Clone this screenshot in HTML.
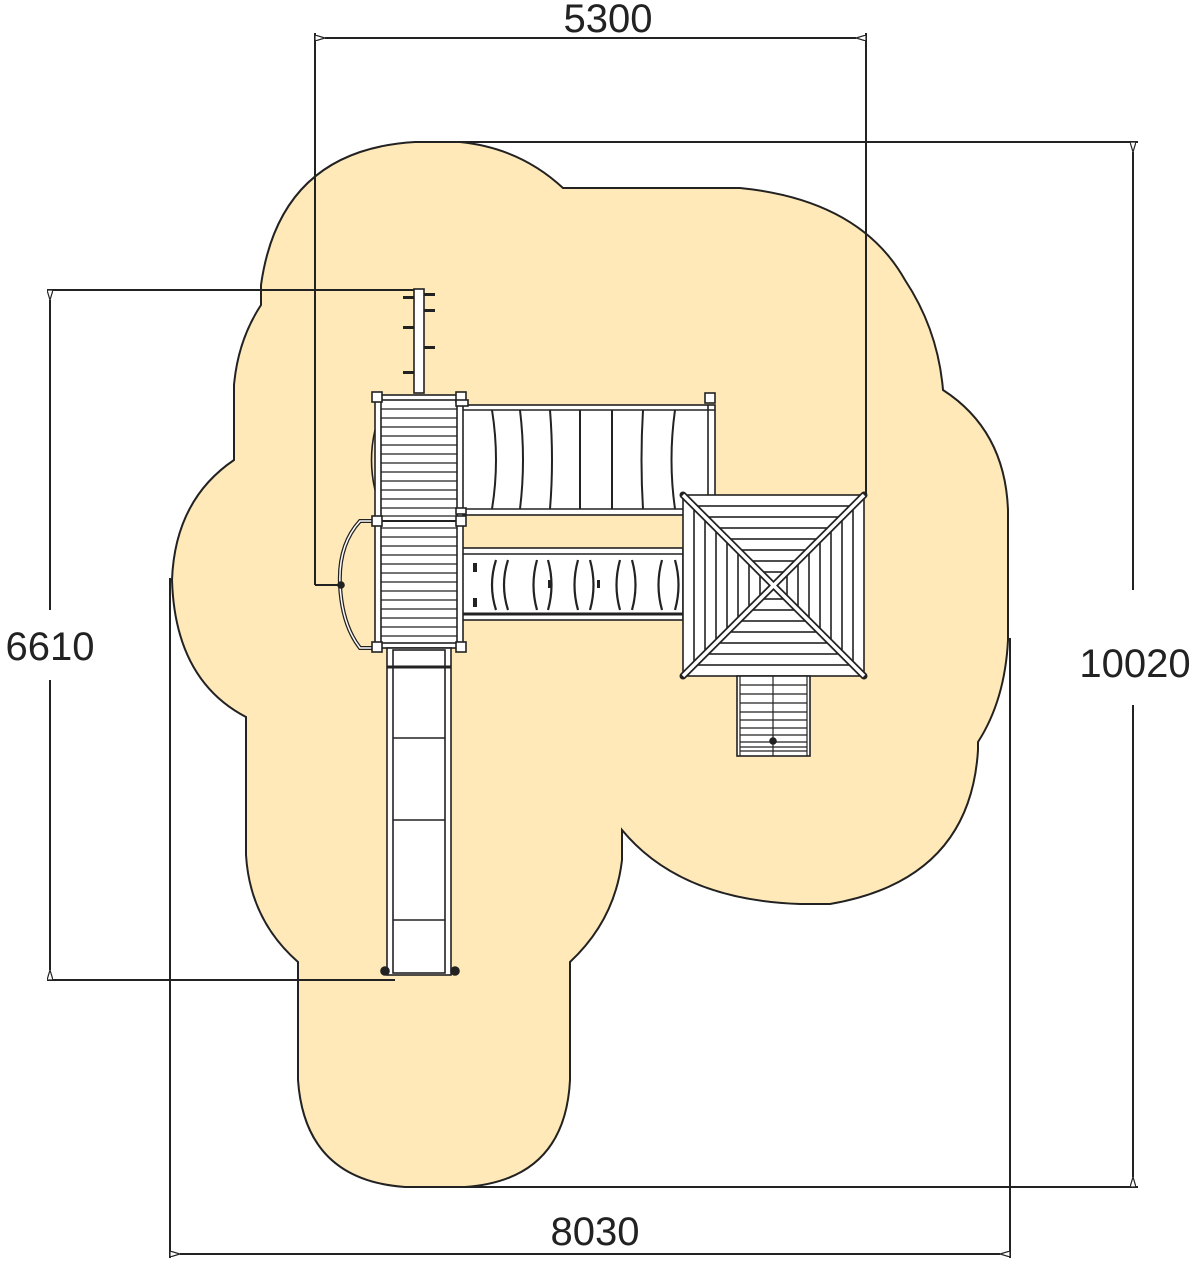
<!DOCTYPE html>
<html><head><meta charset="utf-8"><style>
html,body{margin:0;padding:0;background:#fff;}
svg{display:block;}
text{font-family:"Liberation Sans",sans-serif;font-size:40px;fill:#222;}
</style></head><body>
<svg width="1200" height="1261" viewBox="0 0 1200 1261" xmlns="http://www.w3.org/2000/svg">
<defs>
<marker id="a" viewBox="0 0 10 6" refX="0" refY="3" markerWidth="10" markerHeight="6" orient="auto-start-reverse" markerUnits="userSpaceOnUse">
<path d="M10,0 L0,3 L10,6 z" fill="#fff" stroke="#222" stroke-width="1.2"/></marker>
</defs>
<path d="M415,142 L460,142 Q520,148 563,188 L740,188 Q860,200 905,280 Q938,330 943,390 Q1005,430 1008,510 L1008,640 Q1005,700 978,742 L978,750 Q970,880 830,904 L800,904 Q680,900 622,830 L622,860 Q615,920 570,962 L570,1080 Q565,1180 465,1187 L405,1187 Q305,1180 298,1080 L298,962 Q250,920 246,855 L246,717 Q175,680 172,580 Q175,500 234,460 L234,385 Q238,340 261,305 L261,285 Q280,150 415,142 Z" fill="#ffe9b9" stroke="#222" stroke-width="2"/>
<g stroke="#222" stroke-width="2" fill="none">
<line x1="315" y1="33" x2="315" y2="585"/><line x1="315" y1="585" x2="340" y2="585"/>
<line x1="866" y1="33" x2="866" y2="495"/>
<line x1="325" y1="38" x2="856" y2="38" marker-start="url(#a)" marker-end="url(#a)"/>
<line x1="415" y1="142" x2="1138" y2="142"/><line x1="405" y1="1187" x2="1138" y2="1187"/>
<line x1="1133" y1="152" x2="1133" y2="590" marker-start="url(#a)"/>
<line x1="1133" y1="705" x2="1133" y2="1177" marker-end="url(#a)"/>
<line x1="47" y1="290" x2="418" y2="290"/><line x1="47" y1="980" x2="395" y2="980"/>
<line x1="50" y1="300" x2="50" y2="610" marker-start="url(#a)"/>
<line x1="50" y1="680" x2="50" y2="970" marker-end="url(#a)"/>
<line x1="170" y1="578" x2="170" y2="1258"/><line x1="1010" y1="638" x2="1010" y2="1258"/>
<line x1="180" y1="1254" x2="1000" y2="1254" marker-start="url(#a)" marker-end="url(#a)"/>
</g>
<text x="608" y="32" text-anchor="middle">5300</text>
<text x="1135" y="677" text-anchor="middle">10020</text>
<text x="50" y="660" text-anchor="middle">6610</text>
<text x="595" y="1245" text-anchor="middle">8030</text>

<g stroke="#222" stroke-width="1.6" fill="#fff">
<rect x="414" y="289" width="10" height="104"/>
<g fill="#222" stroke="none">
<rect x="403" y="296" width="11" height="3"/><rect x="424" y="293" width="11" height="3"/><rect x="424" y="309" width="11" height="3"/>
<rect x="403" y="326" width="11" height="3"/><rect x="424" y="346" width="11" height="3"/><rect x="403" y="371" width="11" height="3"/>
</g>
<rect x="460" y="405" width="255" height="110"/>
<line x1="460" y1="410" x2="715" y2="410"/><line x1="460" y1="509" x2="683" y2="509"/>
<g fill="none" stroke-width="2">
<path d="M492,410 Q500,460 492,509"/><path d="M520,410 Q526,460 520,509"/><path d="M550,410 Q554,460 550,509"/>
<path d="M580,410 L580,509"/><path d="M612,410 L612,509"/><path d="M643,410 Q640,460 643,509"/><path d="M675,410 Q668,460 675,509"/>
</g>
<line x1="708" y1="405" x2="708" y2="495"/>
<rect x="705" y="393" width="10" height="10"/>
<rect x="460" y="548" width="223" height="72"/>
<line x1="460" y1="554" x2="683" y2="554"/><line x1="460" y1="614" x2="683" y2="614" stroke-width="3"/>
<g fill="none" stroke-width="2.2">
<path d="M496,560 Q488,585 496,610"/><path d="M508,560 Q500,585 508,610"/>
<path d="M537,560 Q530,585 537,610"/><path d="M548,560 Q555,585 548,610"/>
<path d="M578,560 Q571,585 578,610"/><path d="M590,560 Q597,585 590,610"/>
<path d="M620,560 Q613,585 620,610"/><path d="M632,560 Q639,585 632,610"/>
<path d="M662,560 Q655,585 662,610"/><path d="M675,560 Q682,585 675,610"/>
</g>
<g fill="#222" stroke="none">
<rect x="473" y="563" width="4" height="9"/><rect x="473" y="598" width="4" height="9"/>
<rect x="548" y="580" width="3" height="8"/><rect x="597" y="580" width="3" height="8"/>
</g>
<rect x="375" y="395" width="88" height="253"/>
<rect x="381" y="400" width="76" height="243"/>
<g stroke-width="1.2">
<line x1="381" y1="409" x2="457" y2="409"/><line x1="381" y1="418" x2="457" y2="418"/><line x1="381" y1="427" x2="457" y2="427"/><line x1="381" y1="436" x2="457" y2="436"/><line x1="381" y1="445" x2="457" y2="445"/><line x1="381" y1="454" x2="457" y2="454"/><line x1="381" y1="463" x2="457" y2="463"/><line x1="381" y1="472" x2="457" y2="472"/><line x1="381" y1="481" x2="457" y2="481"/><line x1="381" y1="490" x2="457" y2="490"/><line x1="381" y1="499" x2="457" y2="499"/><line x1="381" y1="508" x2="457" y2="508"/><line x1="381" y1="516" x2="457" y2="516"/>
<line x1="381" y1="528" x2="457" y2="528"/><line x1="381" y1="537" x2="457" y2="537"/><line x1="381" y1="546" x2="457" y2="546"/><line x1="381" y1="555" x2="457" y2="555"/><line x1="381" y1="564" x2="457" y2="564"/><line x1="381" y1="573" x2="457" y2="573"/><line x1="381" y1="582" x2="457" y2="582"/><line x1="381" y1="591" x2="457" y2="591"/><line x1="381" y1="600" x2="457" y2="600"/><line x1="381" y1="609" x2="457" y2="609"/><line x1="381" y1="618" x2="457" y2="618"/><line x1="381" y1="627" x2="457" y2="627"/><line x1="381" y1="636" x2="457" y2="636"/>
</g>
<line x1="375" y1="521" x2="463" y2="521" stroke-width="2"/>
<path d="M375,430 Q368,460 375,490" fill="none"/>
<path d="M373,521 L360,521 Q338,545 340,585 Q342,625 360,648 L373,648" fill="none" stroke-width="4"/>
<path d="M373,521 L360,521 Q338,545 340,585 Q342,625 360,648 L373,648" fill="none" stroke="#fff" stroke-width="1.5"/>
<circle cx="341" cy="585" r="3" fill="#222"/>
<rect x="372" y="392" width="10" height="10"/><rect x="456" y="392" width="10" height="10"/>
<rect x="372" y="516" width="10" height="10"/><rect x="456" y="516" width="10" height="10"/>
<rect x="372" y="642" width="10" height="10"/><rect x="456" y="642" width="10" height="10"/>
<rect x="456" y="400" width="12" height="6"/><rect x="456" y="508" width="10" height="6"/>
<rect x="387" y="648" width="64" height="327"/>
<rect x="393" y="650" width="52" height="323"/>
<line x1="387" y1="667" x2="451" y2="667" stroke-width="3"/>
<line x1="393" y1="738" x2="445" y2="738"/><line x1="393" y1="820" x2="445" y2="820"/><line x1="393" y1="920" x2="445" y2="920"/>
<circle cx="385" cy="971" r="4" fill="#222"/><circle cx="455" cy="971" r="4" fill="#222"/>
<rect x="683" y="495" width="181" height="181"/>
<rect x="694" y="506" width="159" height="159" fill="none"/>
<rect x="705" y="517" width="137" height="137" fill="none"/>
<rect x="716" y="528" width="115" height="115" fill="none"/>
<rect x="727" y="539" width="93" height="93" fill="none"/>
<rect x="738" y="550" width="71" height="71" fill="none"/>
<rect x="749" y="561" width="49" height="49" fill="none"/>
<rect x="760" y="572" width="27" height="27" fill="none"/>
<line x1="683" y1="495" x2="864" y2="676" stroke-width="7" stroke-linecap="round"/>
<line x1="864" y1="495" x2="683" y2="676" stroke-width="7" stroke-linecap="round"/>
<line x1="683" y1="495" x2="864" y2="676" stroke="#fff" stroke-width="3.5"/>
<line x1="864" y1="495" x2="683" y2="676" stroke="#fff" stroke-width="3.5"/>
<rect x="737" y="676" width="73" height="80"/>
<g stroke-width="1.2">
<line x1="740" y1="685" x2="807" y2="685"/><line x1="740" y1="694" x2="807" y2="694"/><line x1="740" y1="703" x2="807" y2="703"/><line x1="740" y1="712" x2="807" y2="712"/><line x1="740" y1="720" x2="807" y2="720"/><line x1="740" y1="728" x2="807" y2="728"/><line x1="740" y1="735" x2="807" y2="735"/><line x1="740" y1="742" x2="807" y2="742"/><line x1="740" y1="747" x2="807" y2="747"/><line x1="740" y1="751" x2="807" y2="751"/>
<line x1="773" y1="676" x2="773" y2="756"/><line x1="740" y1="676" x2="740" y2="756"/><line x1="807" y1="676" x2="807" y2="756"/>
</g>
<circle cx="773" cy="741" r="3" fill="#222"/>
</g>
</svg>
</body></html>
